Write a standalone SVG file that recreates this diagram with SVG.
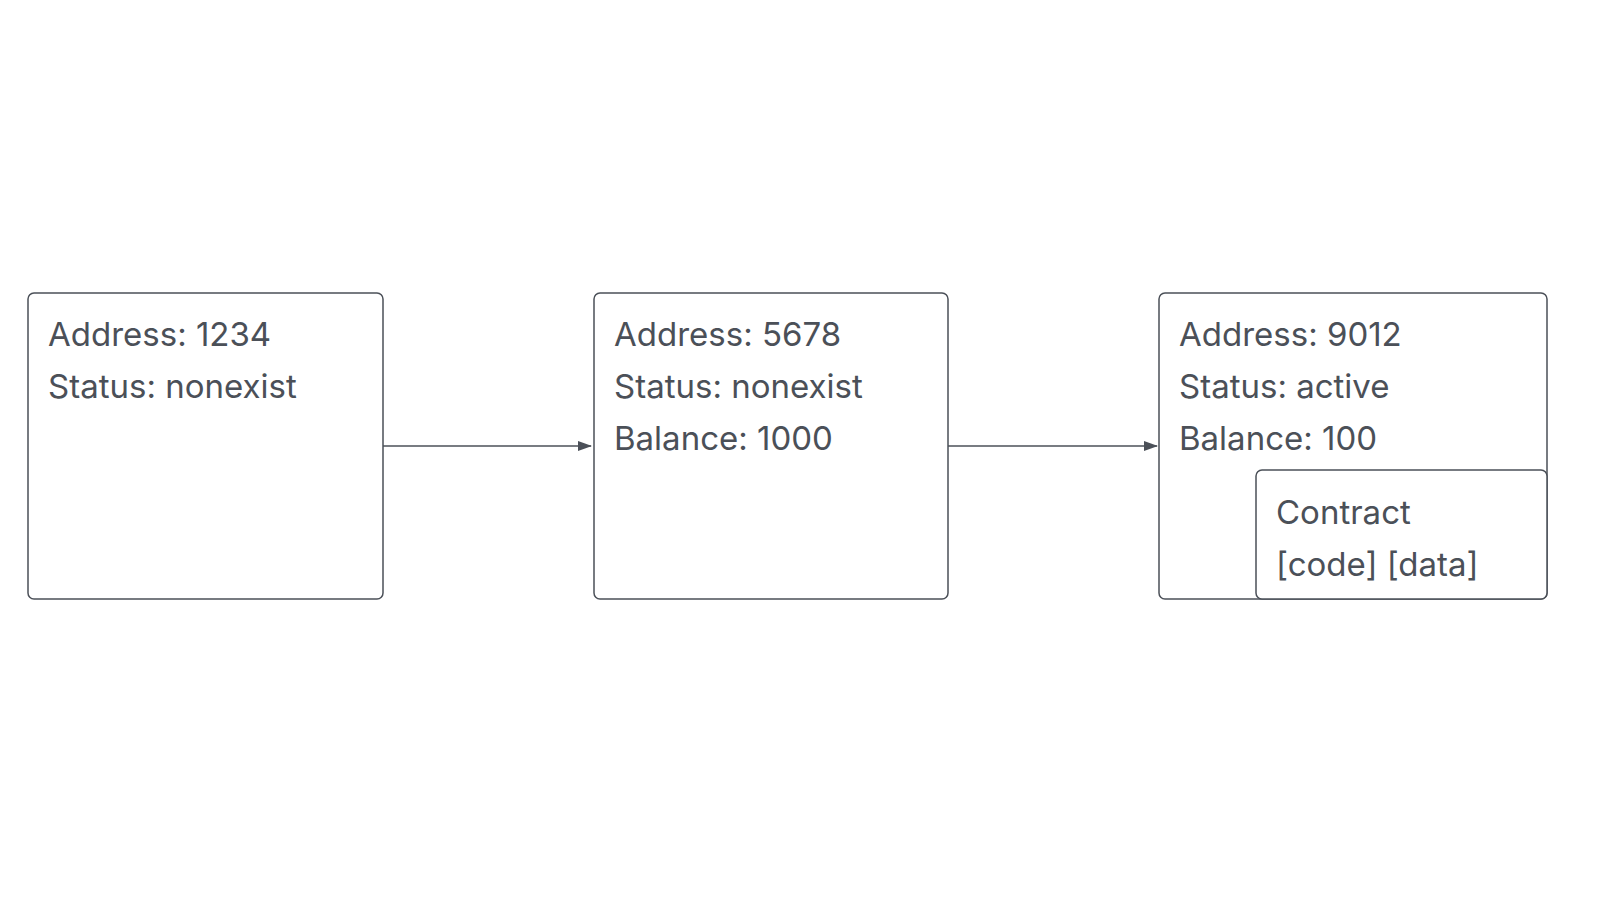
<svg xmlns="http://www.w3.org/2000/svg" width="1600" height="900" viewBox="0 0 1600 900">
<style>
.box{fill:#fff;stroke:#4b5058;stroke-width:1.5}
.t{font-family:Inter,"Noto Sans",sans-serif;font-size:33px;fill:#4b5058}
.c{stroke:#4b5058;stroke-width:1.5;fill:none}
</style>
<defs><marker id="a" markerWidth="14" markerHeight="10" refX="13" refY="5" orient="auto" markerUnits="userSpaceOnUse"><path d="M0,0 L14,5 L0,10 z" fill="#4b5058"/></marker></defs>
<rect width="1600" height="900" fill="#fff"/>
<g id="connectors">
<path class="c" d="M383,446 H591" marker-end="url(#a)"/>
<path class="c" d="M948,446 H1157" marker-end="url(#a)"/>
</g>
<g id="n1"><rect class="box" x="28" y="293" width="355" height="306" rx="6"/>
<text class="t" x="48" y="346">Address: 1234</text><text class="t" x="48" y="398">Status: nonexist</text></g>
<g id="n2"><rect class="box" x="594" y="293" width="354" height="306" rx="6"/>
<text class="t" x="614" y="346">Address: 5678</text><text class="t" x="614" y="398">Status: nonexist</text><text class="t" x="614" y="450">Balance: 1000</text></g>
<g id="n3"><rect class="box" x="1159" y="293" width="388" height="306" rx="6"/>
<text class="t" x="1179" y="346">Address: 9012</text><text class="t" x="1179" y="398">Status: active</text><text class="t" x="1179" y="450">Balance: 100</text></g>
<g id="n4"><rect class="box" x="1256" y="470" width="291" height="129" rx="6"/>
<text class="t" x="1276" y="524">Contract</text><text class="t" x="1276" y="576">[code] [data]</text></g>
</svg>
